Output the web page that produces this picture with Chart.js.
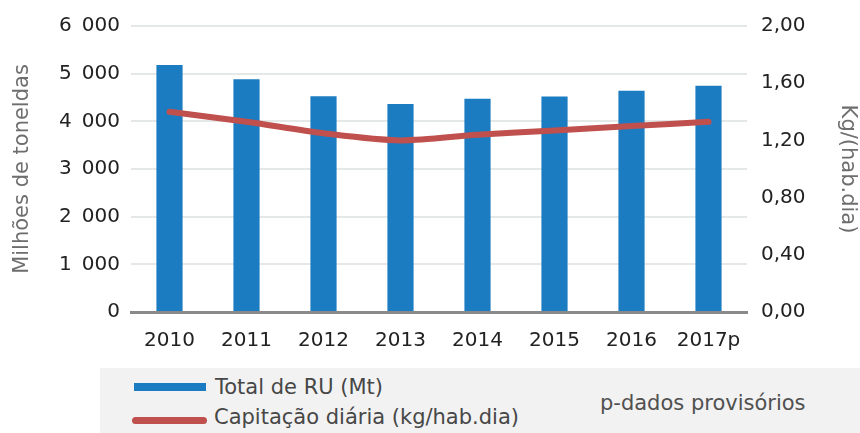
<!DOCTYPE html>
<html lang="pt">
<head>
    <meta charset="UTF-8">
    <title>Resíduos urbanos</title>
    <script src="https://cdn.jsdelivr.net/npm/chart.js"></script>
    <style>
        body {
            margin: 0;
            background: white;
            font-family: "DejaVu Sans", sans-serif;
        }
        .wrap {
            position: relative;
            width: 860px;
            height: 433px;
        }
        .legend {
            position: absolute;
            left: 100px;
            top: 368px;
            width: 760px;
            height: 65px;
            background: #f2f2f2;
            color: #474747;
            font-size: 21px;
            line-height: 21px;
        }
        .legend span {
            position: absolute;
            white-space: nowrap;
        }
        .swatch {
            position: absolute;
        }
    </style>
</head>
<body>
    <div class="wrap">
        <canvas id="chart" width="860" height="433"></canvas>
        <div class="legend">
            <div class="swatch" style="left:34px;top:15px;width:72px;height:8px;background:#1b7cc2"></div>
            <span style="left:115px;top:9px">Total de RU (Mt)</span>
            <div class="swatch" style="left:32px;top:49px;width:75px;height:7px;background:#c0504d;border-radius:4px"></div>
            <span style="left:114px;top:39px">Capitação diária (kg/hab.dia)</span>
            <span style="left:500px;top:25px;color:#505050">p-dados provisórios</span>
        </div>
    </div>
    <script>
        const years = ["2010", "2011", "2012", "2013", "2014", "2015", "2016", "2017p"];
        const totalRU = [5184, 4884, 4528, 4362, 4475, 4523, 4640, 4745];
        const capitacao = [1.40, 1.33, 1.25, 1.20, 1.24, 1.27, 1.30, 1.33];
        const leftTicks = [0, 1000, 2000, 3000, 4000, 5000, 6000];
        const rightTicks = [0, 0.4, 0.8, 1.2, 1.6, 2.0];

        const tickFont = { family: "DejaVu Sans", size: 20 };
        const titleFont = { family: "DejaVu Sans", size: 21 };

        new Chart(document.getElementById("chart"), {
            type: "bar",
            data: {
                labels: years,
                datasets: [
                    {
                        type: "line",
                        label: "Capitação diária (kg/hab.dia)",
                        data: capitacao,
                        yAxisID: "yR",
                        borderColor: "#c0504d",
                        borderWidth: 6,
                        borderCapStyle: "round",
                        pointRadius: 0,
                        tension: 0.3,
                        order: 0
                    },
                    {
                        label: "Total de RU (Mt)",
                        data: totalRU,
                        yAxisID: "y",
                        backgroundColor: "#1b7cc2",
                        barPercentage: 0.34,
                        categoryPercentage: 1,
                        order: 1
                    }
                ]
            },
            options: {
                responsive: false,
                animation: false,
                layout: { padding: { top: 25, left: 0, right: 0, bottom: 0 } },
                plugins: { legend: { display: false }, tooltip: { enabled: false } },
                scales: {
                    x: {
                        grid: { display: false, drawTicks: false },
                        border: { color: "#8a8a8a", width: 3 },
                        ticks: { color: "#222", font: tickFont, padding: 17 },
                        afterFit: s => { s.height = 121; }
                    },
                    y: {
                        position: "left",
                        min: 0, max: 6000,
                        afterBuildTicks: s => { s.ticks = leftTicks.map(v => ({ value: v })); },
                        grid: { color: "#e4e9e7", lineWidth: 2, drawTicks: false },
                        border: { display: false },
                        ticks: {
                            color: "#222", font: tickFont, padding: 11,
                            callback: v => v.toString().replace(/\B(?=(\d{3})+(?!\d))/g, "\u2002")
                        },
                        title: { display: true, text: "Milhões de toneldas", color: "#6e6e6e", font: titleFont, padding: { top: 10, bottom: 0 } },
                        afterFit: s => { s.width = 131; }
                    },
                    yR: {
                        position: "right",
                        min: 0, max: 2,
                        afterBuildTicks: s => { s.ticks = rightTicks.map(v => ({ value: v })); },
                        grid: { display: false, drawTicks: false },
                        border: { display: false },
                        ticks: {
                            color: "#222", font: tickFont, padding: 14,
                            callback: v => v.toFixed(2).replace(".", ",")
                        },
                        title: { display: true, text: "Kg/(hab.dia)", color: "#6e6e6e", font: titleFont, padding: { top: 0, bottom: 0 } },
                        afterFit: s => { s.width = 113; }
                    }
                }
            }
        });
    </script>
</body>
</html>
